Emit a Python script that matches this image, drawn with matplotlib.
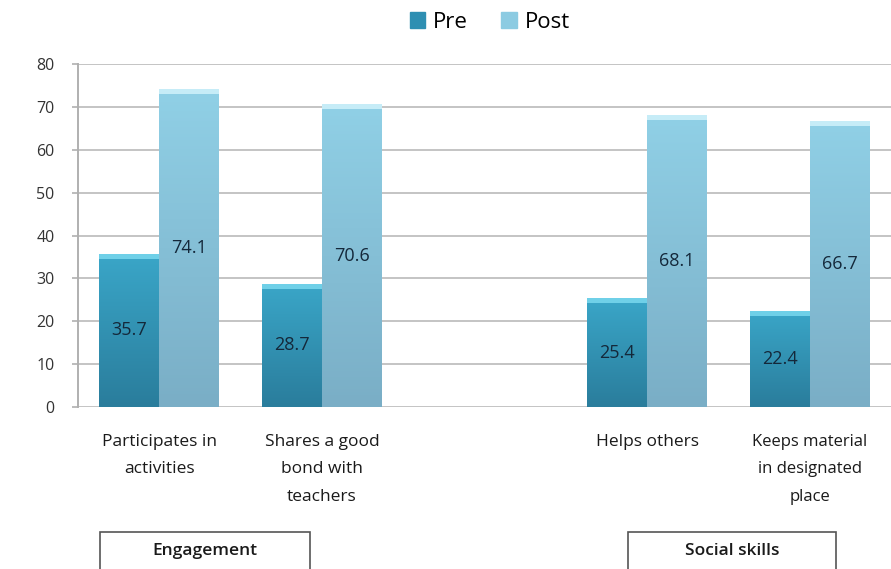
import matplotlib
matplotlib.use('Agg')
import matplotlib.pyplot as plt
import matplotlib.patches as mpatches
from matplotlib.colors import LinearSegmentedColormap
import numpy as np

# data
categories = ['Participates in\nactivities', 'Shares a good\nbond with\nteachers', '',
              'Helps others', 'Keeps material\nin designated\nplace']
pre = [35.7, 28.7, None, 25.4, 22.4]
post = [74.1, 70.6, None, 68.1, 66.7]
series = ['Pre', 'Post']
groups = ['Engagement', 'Social skills']
yticks = [0, 10, 20, 30, 40, 50, 60, 70, 80]

plt.rcParams['font.family'] = ['Open Sans', 'DejaVu Sans']

fig = plt.figure(figsize=(8.91, 5.69), dpi=100)
ax = fig.add_axes([78/891, (569-407)/569, 813/891, 343/569])

x = np.arange(len(categories))
w = 0.368
pre_vals = [v if v is not None else 0 for v in pre]
post_vals = [v if v is not None else 0 for v in post]

pre_cmap = LinearSegmentedColormap.from_list('pre', ['#2a7d9c', '#3aa6c8'])
post_cmap = LinearSegmentedColormap.from_list('post', ['#7aaec6', '#90d0e6'])

def shade(bars, vals, cmap, cap):
    for b, v in zip(bars, vals):
        if v == 0:
            continue
        x0, y0 = b.get_x(), b.get_y()
        bw, bh = b.get_width(), b.get_height()
        grad = np.linspace(0, 1, 100).reshape(-1, 1)
        im = ax.imshow(grad, cmap=cmap, origin='lower', aspect='auto',
                       extent=[x0, x0 + bw, y0, y0 + bh], zorder=3)
        im.set_clip_path(b)
        # light top cap
        ax.add_patch(mpatches.Rectangle((x0, y0 + bh - 1.1), bw, 1.1,
                                        color=cap, zorder=4, lw=0))

bars_pre = ax.bar(x - w/2, pre_vals, w, color='#2e8fb2', zorder=2, label=series[0])
bars_post = ax.bar(x + w/2, post_vals, w, color='#86c4dc', zorder=2, label=series[1])
shade(bars_pre, pre_vals, pre_cmap, '#6fd0e8')
shade(bars_post, post_vals, post_cmap, '#c6ecf7')

# value labels in bar centre
for bars, vals in [(bars_pre, pre), (bars_post, post)]:
    for b, v in zip(bars, vals):
        if v is None:
            continue
        ax.text(b.get_x() + b.get_width()/2, v/2, f'{v}', ha='center', va='center',
                fontsize=13, color='#14283a', zorder=5)

ax.set_xlim(-0.5, 4.5)
ax.set_ylim(0, 80)
ax.set_yticks(yticks)
ax.tick_params(axis='y', labelsize=11.5, colors='#333333', length=4, width=1.2,
               color='#b0b0b0', pad=13)
ax.set_xticks([])
ax.grid(axis='y', color='#c4c4c4', lw=1.4, zorder=0)
for s in ['top', 'right', 'bottom']:
    ax.spines[s].set_visible(False)
ax.spines['left'].set_color('#b0b0b0')
ax.spines['left'].set_linewidth(1.4)

# category labels
for xi, lab in zip(x, categories):
    fs = 12.5 if not lab.startswith('Keeps') else 12
    ax.text(xi, -6.3, lab, ha='center', va='top', fontsize=fs, color='#1a1a1a',
            linespacing=1.95, transform=ax.transData, clip_on=False)

# group boxes
for (x0, x1), g in zip([(100, 310), (628, 836)], groups):
    rect = mpatches.Rectangle((x0/891, -10/569), (x1-x0)/891, 47/569,
                              transform=fig.transFigure, fill=False,
                              edgecolor='#555555', lw=1.2, clip_on=False)
    fig.patches.append(rect)
    fig.text((x0 + x1)/2/891, (569-551)/569, g, ha='center', va='center',
             fontsize=12.5, fontweight='semibold', color='#1a1a1a')

handles = [mpatches.Patch(color='#2e8fb2'), mpatches.Patch(color='#8ccbe2')]
fig.legend(handles, series, loc='center', bbox_to_anchor=(490/891, (569-22)/569),
           ncol=2, frameon=False, fontsize=16, handlelength=0.7, handleheight=0.7,
           handletextpad=0.35, columnspacing=1.5)

plt.savefig('out.png', dpi=100)
